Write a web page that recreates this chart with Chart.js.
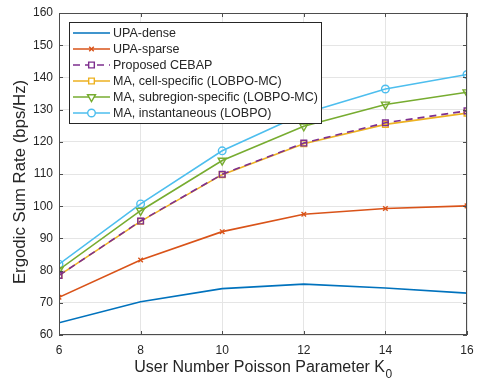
<!DOCTYPE html>
<html>
<head>
<meta charset="utf-8">
<script src="https://cdn.jsdelivr.net/npm/chart.js@4.4.1/dist/chart.umd.min.js"></script>
<style>
  body { margin: 0; background: #fff; }
  canvas { display: block; }
</style>
</head>
<body>
<canvas id="rate" width="477" height="380"></canvas>
<script>
// K0 values on the x axis
var k0 = [6, 8, 10, 12, 14, 16];

var names = [
    'UPA-dense',
    'UPA-sparse',
    'Proposed CEBAP',
    'MA, cell-specific (LOBPO-MC)',
    'MA, subregion-specific (LOBPO-MC)',
    'MA, instantaneous (LOBPO)'
];

var upaDense     = [63.8, 70.3, 74.4, 75.8, 74.6, 73.0];
var upaSparse    = [71.7, 83.3, 92.1, 97.5, 99.3, 100.1];
var cebap        = [78.5, 95.4, 109.9, 119.6, 125.9, 129.6];
var cellSpecific = [78.5, 95.3, 109.8, 119.4, 125.4, 128.9];
var subregion    = [80.3, 98.6, 114.2, 124.8, 131.6, 135.4];
var instant      = [82.0, 100.7, 117.2, 128.8, 136.4, 140.9];

var xTicks = [6, 8, 10, 12, 14, 16];
var yTicks = [60, 70, 80, 90, 100, 110, 120, 130, 140, 150, 160];

var FONT = 'Liberation Sans, Arial, Helvetica, sans-serif';

function pts(vals) {
    return vals.map(function(v, i) { return {x: k0[i], y: v}; });
}

function series(label, vals, color, style, radius, extra) {
    var d = {
        label: label,
        data: pts(vals),
        borderColor: color,
        backgroundColor: color,
        borderWidth: 1.6,
        pointStyle: style,
        pointRadius: style ? radius : 0,
        pointBorderColor: color,
        pointBackgroundColor: 'rgba(0,0,0,0)',
        pointBorderWidth: 1.4,
        tension: 0
    };
    for (var k in extra) d[k] = extra[k];
    return d;
}

var datasets = [
    series(names[0], upaDense, '#0072BD', false, 0, {}),
    series(names[1], upaSparse, '#D95319', 'crossRot', 3.2, {}),
    series(names[2], cebap, '#7E2F8E', 'rect', 4.0, {borderDash: [7, 5]}),
    series(names[3], cellSpecific, '#EDB120', 'rect', 4.0, {}),
    series(names[4], subregion, '#77AC30', 'triangle', 4.6, {pointRotation: 180}),
    series(names[5], instant, '#4DBEEE', 'circle', 3.8, {})
];

var boxPlugin = {
    id: 'matlabBox',
    afterDraw: function(chart) {
        var ctx = chart.ctx;
        var a = chart.chartArea;
        var xs = chart.scales.x, ys = chart.scales.y;
        ctx.save();
        // axes box
        ctx.strokeStyle = '#4d4d4d';
        ctx.lineWidth = 1;
        ctx.strokeRect(a.left + 0.5, a.top + 0.5, a.right - a.left - 1, a.bottom - a.top - 1);
        // inward ticks
        ctx.beginPath();
        xTicks.forEach(function(t) {
            var px = Math.round(xs.getPixelForValue(t)) + 0.5;
            ctx.moveTo(px, a.bottom); ctx.lineTo(px, a.bottom - 4);
            ctx.moveTo(px, a.top); ctx.lineTo(px, a.top + 4);
        });
        yTicks.forEach(function(t) {
            var py = Math.round(ys.getPixelForValue(t)) + 0.5;
            ctx.moveTo(a.left, py); ctx.lineTo(a.left + 4, py);
            ctx.moveTo(a.right, py); ctx.lineTo(a.right - 4, py);
        });
        ctx.stroke();

        // x title with subscript
        ctx.fillStyle = '#262626';
        ctx.font = '16px ' + FONT;
        ctx.textBaseline = 'alphabetic';
        var main = 'User Number Poisson Parameter K';
        var w1 = ctx.measureText(main).width;
        ctx.font = '12px ' + FONT;
        var w2 = ctx.measureText('0').width;
        var x0 = (a.left + a.right) / 2 - (w1 + w2) / 2;
        ctx.font = '16px ' + FONT;
        ctx.textAlign = 'left';
        ctx.fillText(main, x0, 372);
        ctx.font = '12px ' + FONT;
        ctx.fillText('0', x0 + w1 + 0.5, 378);

        // y title
        ctx.save();
        ctx.translate(25, 182);
        ctx.rotate(-Math.PI / 2);
        ctx.font = '16.8px ' + FONT;
        ctx.textAlign = 'center';
        ctx.fillText('Ergodic Sum Rate (bps/Hz)', 0, 0);
        ctx.restore();

        // legend
        var lx = 69, ly = 22, lw = 252, lh = 101;
        ctx.fillStyle = '#fff';
        ctx.fillRect(lx, ly, lw, lh);
        ctx.strokeStyle = '#262626';
        ctx.lineWidth = 1;
        ctx.strokeRect(lx + 0.5, ly + 0.5, lw, lh);
        ctx.font = '12.5px ' + FONT;
        ctx.textAlign = 'left';
        ctx.textBaseline = 'middle';
        chart.data.datasets.forEach(function(ds, i) {
            var ry = ly + 11 + i * 16;
            ctx.strokeStyle = ds.borderColor;
            ctx.lineWidth = ds.borderWidth;
            ctx.setLineDash(ds.borderDash || []);
            ctx.beginPath();
            ctx.moveTo(73, ry); ctx.lineTo(110, ry);
            ctx.stroke();
            ctx.setLineDash([]);
            if (ds.pointStyle) {
                ctx.fillStyle = '#fff';
                ctx.strokeStyle = ds.pointBorderColor;
                ctx.lineWidth = ds.pointBorderWidth;
                Chart.helpers.drawPoint(ctx, {
                    pointStyle: ds.pointStyle,
                    radius: ds.pointRadius,
                    rotation: ds.pointRotation || 0,
                    borderWidth: ds.pointBorderWidth
                }, 91.5, ry);
            }
            ctx.fillStyle = '#262626';
            ctx.fillText(ds.label, 113, ry + 0.5);
        });
        ctx.restore();
    }
};

new Chart(document.getElementById('rate').getContext('2d'), {
    type: 'line',
    data: { datasets: datasets },
    options: {
        responsive: false,
        animation: false,
        layout: { padding: { top: 13, right: 10, left: 0, bottom: 0 } },
        plugins: {
            legend: { display: false },
            tooltip: { enabled: false }
        },
        scales: {
            x: {
                type: 'linear',
                min: 6, max: 16,
                afterBuildTicks: function(s) { s.ticks = xTicks.map(function(v) { return {value: v}; }); },
                afterFit: function(s) { s.height = 45; s.paddingLeft = 0; s.paddingRight = 0; },
                grid: { color: '#e5e5e5', lineWidth: 1, tickLength: 0, drawTicks: false },
                border: { display: false },
                ticks: { color: '#262626', font: { family: FONT, size: 12 }, padding: 8, maxRotation: 0 }
            },
            y: {
                min: 60, max: 160,
                afterBuildTicks: function(s) { s.ticks = yTicks.map(function(v) { return {value: v}; }); },
                afterFit: function(s) { s.width = 59; s.paddingTop = 0; s.paddingBottom = 0; },
                grid: { color: '#e5e5e5', lineWidth: 1, tickLength: 0, drawTicks: false },
                border: { display: false },
                ticks: { color: '#262626', font: { family: FONT, size: 12 }, padding: 6 }
            }
        }
    },
    plugins: [boxPlugin]
});
</script>
</body>
</html>
